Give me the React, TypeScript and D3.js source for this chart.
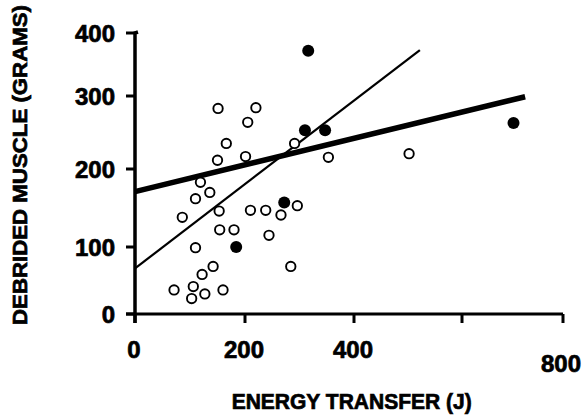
import React from "react";
import * as d3 from "d3";

// Open circles (energy transfer J, debrided muscle g)
const openX = [151, 220, 205, 166, 150, 201, 291, 353, 502, 119, 136, 110, 86, 153, 210, 238, 266, 296, 154, 180, 244, 110, 142, 122, 284, 106, 127, 103, 71, 160];
const openY = [283, 284, 264, 235, 212, 217, 235, 216, 221, 183, 170, 162, 138, 146, 147, 147, 141, 153, 122, 122, 115, 99, 71, 59, 71, 41, 30, 23, 36, 36];
// Filled circles
const filledX = [316, 310, 347, 272, 184, 702];
const filledY = [372, 253, 253, 157, 100, 263];
// Regression lines (endpoints)
const fitThickX = [0, 725];
const fitThickY = [171, 299];
const fitThinX = [0, 522];
const fitThinY = [68, 373];

const xTicks = [0, 200, 400, 600, 800];
const xTickLabels = ["0", "200", "400", "", "800"];
const yTicks = [0, 100, 200, 300, 400];
const yTickLabels = ["0", "100", "200", "300", "400"];

const xTitle = "ENERGY TRANSFER (J)";
const yTitle = "DEBRIDED MUSCLE (GRAMS)";

const W = 584;
const H = 416;
const FONT = "'Liberation Sans', Arial, sans-serif";

export default function App() {
  // piecewise-linear scales follow the (slightly uneven) printed axes
  const x = d3.scaleLinear().domain(xTicks).range([135, 245, 354, 462, 563]);
  const y = d3.scaleLinear().domain(yTicks).range([314, 247, 169, 96, 33]);
  const line = d3
    .line<[number, number]>()
    .x((d) => x(d[0]))
    .y((d) => y(d[1]));
  const thick: [number, number][] = fitThickX.map((v, i) => [v, fitThickY[i]]);
  const thin: [number, number][] = fitThinX.map((v, i) => [v, fitThinY[i]]);
  const tickLen = 9;
  const last = xTicks.length - 1;
  const heavy = { stroke: "#000", strokeWidth: 0.7, paintOrder: "stroke" as const };

  return (
    <div style={{ position: "absolute", left: 0, top: 0 }}>
      <svg width={W} height={H} style={{ display: "block", background: "#fff" }}>
        {/* axes */}
        <path
          d={`M${x(0) + 3},${y(400) - 1} L${x(0)},${y(400)} L${x(0)},${y(0) + tickLen}`}
          fill="none"
          stroke="#000"
          strokeWidth={3.5}
        />
        <line x1={x(0) - tickLen} x2={x(800)} y1={y(0)} y2={y(0)} stroke="#000" strokeWidth={3.2} />
        {yTicks.map((t, i) => (
          <g key={"y" + i}>
            <line x1={x(0) - tickLen} x2={x(0)} y1={y(t)} y2={y(t)} stroke="#000" strokeWidth={3} />
            <text
              x={115}
              y={y(t) + 8.6}
              textAnchor="end"
              fontFamily={FONT}
              fontWeight="bold"
              fontSize={24}
              fill="#000"
              {...heavy}
            >
              {yTickLabels[i]}
            </text>
          </g>
        ))}
        {xTicks.map((t, i) => (
          <g key={"x" + i}>
            <line x1={x(t)} x2={x(t)} y1={y(0)} y2={y(0) + tickLen} stroke="#000" strokeWidth={3} />
            <text
              x={x(t) - (i === last ? 2 : 1)}
              y={i === last ? 371.5 : 357.5}
              textAnchor="middle"
              fontFamily={FONT}
              fontWeight="bold"
              fontSize={24}
              fill="#000"
              {...heavy}
            >
              {xTickLabels[i]}
            </text>
          </g>
        ))}
        {/* fit lines */}
        <path d={line(thick) || ""} fill="none" stroke="#000" strokeWidth={5.5} />
        <path d={line(thin) || ""} fill="none" stroke="#000" strokeWidth={2.2} />
        {/* points */}
        {openX.map((v, i) => (
          <circle key={"o" + i} cx={x(v)} cy={y(openY[i])} r={4.7} fill="#fff" stroke="#000" strokeWidth={1.9} />
        ))}
        {filledX.map((v, i) => (
          <circle key={"f" + i} cx={x(v)} cy={y(filledY[i])} r={6} fill="#000" />
        ))}
        {/* titles */}
        <text
          x={351.7}
          y={409.3}
          textAnchor="middle"
          fontFamily={FONT}
          fontWeight="bold"
          fontSize={22}
          textLength={240}
          lengthAdjust="spacingAndGlyphs"
          fill="#000"
          {...heavy}
        >
          {xTitle}
        </text>
        <text
          transform="translate(26.7,165) rotate(-90)"
          textAnchor="middle"
          fontFamily={FONT}
          fontWeight="bold"
          fontSize={21}
          textLength={320}
          lengthAdjust="spacingAndGlyphs"
          fill="#000"
          {...heavy}
        >
          {yTitle}
        </text>
      </svg>
    </div>
  );
}
